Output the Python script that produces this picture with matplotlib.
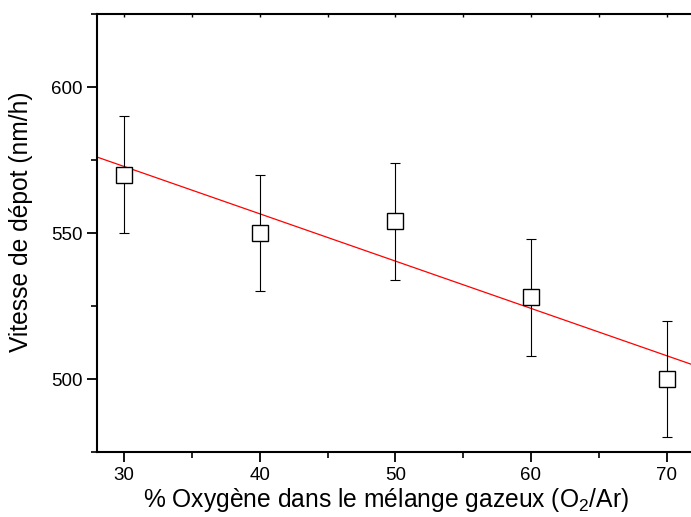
import numpy as np
import matplotlib
matplotlib.use("Agg")
import matplotlib.pyplot as plt
from matplotlib.ticker import MultipleLocator

plt.rcParams['font.family'] = ['Liberation Sans', 'DejaVu Sans']
plt.rcParams['mathtext.fontset'] = 'custom'
plt.rcParams['mathtext.rm'] = 'Liberation Sans'
plt.rcParams['mathtext.it'] = 'Liberation Sans:italic'

oxygen = [30, 40, 50, 60, 70]
rate = [570, 550, 554, 528, 500]
err = [20, 20, 20, 20, 20]

fig = plt.figure(figsize=(6.91, 5.17), dpi=100)
ax = fig.add_axes([0.1404, 0.1257, 0.8596, 0.847])

ax.set_xlim(28, 71.8)
ax.set_ylim(475, 625)

slope, intercept = np.polyfit(oxygen, rate, 1)
xl = np.array(ax.get_xlim())
ax.plot(xl, slope * xl + intercept, color='red', lw=0.9, zorder=2)

ax.errorbar(oxygen, rate, yerr=err, fmt='none', ecolor='black', elinewidth=0.8,
            capsize=3.5, capthick=0.8, zorder=3)
ax.plot(oxygen, rate, 's', ms=11, mfc='white', mec='black', mew=1.0, zorder=4)

ax.spines['right'].set_visible(False)
for s in ['left', 'bottom', 'top']:
    ax.spines[s].set_linewidth(1.5)

ax.xaxis.set_major_locator(MultipleLocator(10))
ax.xaxis.set_minor_locator(MultipleLocator(5))
ax.yaxis.set_major_locator(MultipleLocator(50))
ax.yaxis.set_minor_locator(MultipleLocator(25))

ax.tick_params(axis='both', which='major', direction='out', length=7, width=1.3, labelsize=13.5)
ax.tick_params(axis='both', which='minor', direction='out', length=4, width=1.2)
ax.tick_params(axis='x', which='both', top=False)

topax = ax.secondary_xaxis('top')
topax.set_xticks([30, 35, 40, 45, 50, 55, 60, 65, 70])
topax.tick_params(direction='in', length=2, width=1.0, labeltop=False)
topax.spines['top'].set_visible(False)

ax.set_xlabel('% Oxygène dans le mélange gazeux (O$_2$/Ar)', fontsize=17.7)
ax.xaxis.set_label_coords(0.486, -0.078)
ax.set_ylabel('Vitesse de dépot (nm/h)', fontsize=17.7)
ax.yaxis.set_label_coords(-0.108, 0.525)

fig.savefig('out.png', dpi=100)
